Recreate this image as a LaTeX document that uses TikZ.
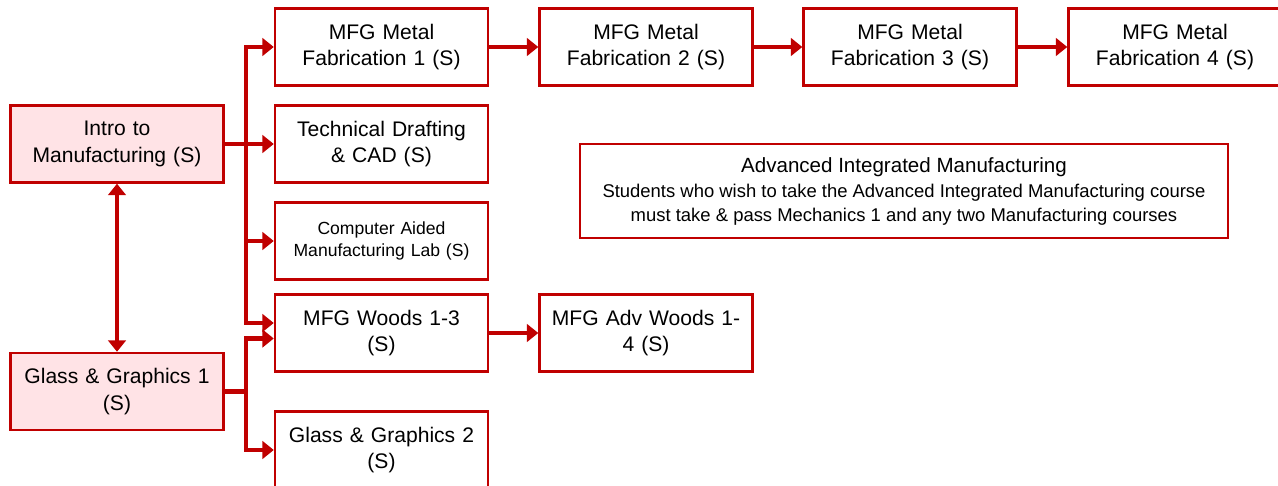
\documentclass[tikz,border=0pt]{standalone}
\usepackage{fontspec}
\setmainfont{Liberation Sans}
\usetikzlibrary{arrows.meta}
\definecolor{mfgred}{HTML}{C00000}
\definecolor{mfgpink}{HTML}{FFE3E6}
\tikzset{box/.style={draw=mfgred,line width=1.4pt,fill=white,minimum width=4.26cm,minimum height=1.54cm,text width=4.1cm,align=center,inner sep=0pt,font=\fontsize{12}{15}\selectfont}}
\tikzset{firstbox/.style={box,fill=mfgpink}}
\tikzset{bar/.style={mfgred,line width=2.8pt}}
\tikzset{link/.style={bar,-{Triangle[length=6.5pt,width=10pt]}}}

\begin{document}
\begin{tikzpicture}[x=0.02cm,y=-0.02cm]
  \useasboundingbox (0,0) rectangle (1278,486);
  % starting courses
  \node[firstbox] (intro) at (117,144) {Intro to\\Manufacturing (S)};
  \node[firstbox] (glass1) at (117,391.5) {Glass \& Graphics 1\\(S)};
  % second column
  \node[box] (metal1) at (381.5,47) {MFG Metal\\Fabrication 1 (S)};
  \node[box] (tech) at (381.5,144) {Technical Drafting\\\& CAD (S)};
  \node[box,font=\fontsize{10}{13}\selectfont] (cam) at (381.5,241) {Computer Aided\\Manufacturing Lab (S)};
  \node[box] (woods) at (381.5,333) {MFG Woods 1-3\\(S)};
  \node[box] (glass2) at (381.5,450) {Glass \& Graphics 2\\(S)};
  % later courses
  \node[box] (metal2) at (646,47) {MFG Metal\\Fabrication 2 (S)};
  \node[box] (metal3) at (910,47) {MFG Metal\\Fabrication 3 (S)};
  \node[box] (metal4) at (1175,47) {MFG Metal\\Fabrication 4 (S)};
  \node[box] (advwoods) at (646,333) {MFG Adv Woods 1-\\4 (S)};
  % note
  \node[draw=mfgred,line width=1pt,minimum width=12.96cm,minimum height=1.88cm,align=center,inner sep=0pt,font=\fontsize{10.5}{13.2}\selectfont] (note) at (904,191)
    {{\fontsize{11.7}{13}\selectfont Advanced Integrated Manufacturing}\\[1.5pt]Students who wish to take the Advanced Integrated Manufacturing course\\must take \& pass Mechanics 1 and any two Manufacturing courses};
  % connectors
  \coordinate (busA) at (246,144);
  \coordinate (busB) at (246,391.5);
  \draw[link] (intro.east) -- (tech.west);
  \draw[link] (busA) |- (metal1.west);
  \draw[link] (busA) |- (cam.west);
  \draw[link] (busA) |- ([yshift=0.2cm]woods.west);
  \draw[bar] (glass1.east) -- (busB);
  \draw[link] (busB) |- ([yshift=-0.11cm]woods.west);
  \draw[link] (busB) |- (glass2.west);
  \draw[bar,{Triangle[length=6.5pt,width=10pt]}-{Triangle[length=6.5pt,width=10pt]}] (intro.south) -- (glass1.north);
  \draw[link] (metal1.east) -- (metal2.west);
  \draw[link] (metal2.east) -- (metal3.west);
  \draw[link] (metal3.east) -- (metal4.west);
  \draw[link] (woods.east) -- (advwoods.west);
\end{tikzpicture}
\end{document}
